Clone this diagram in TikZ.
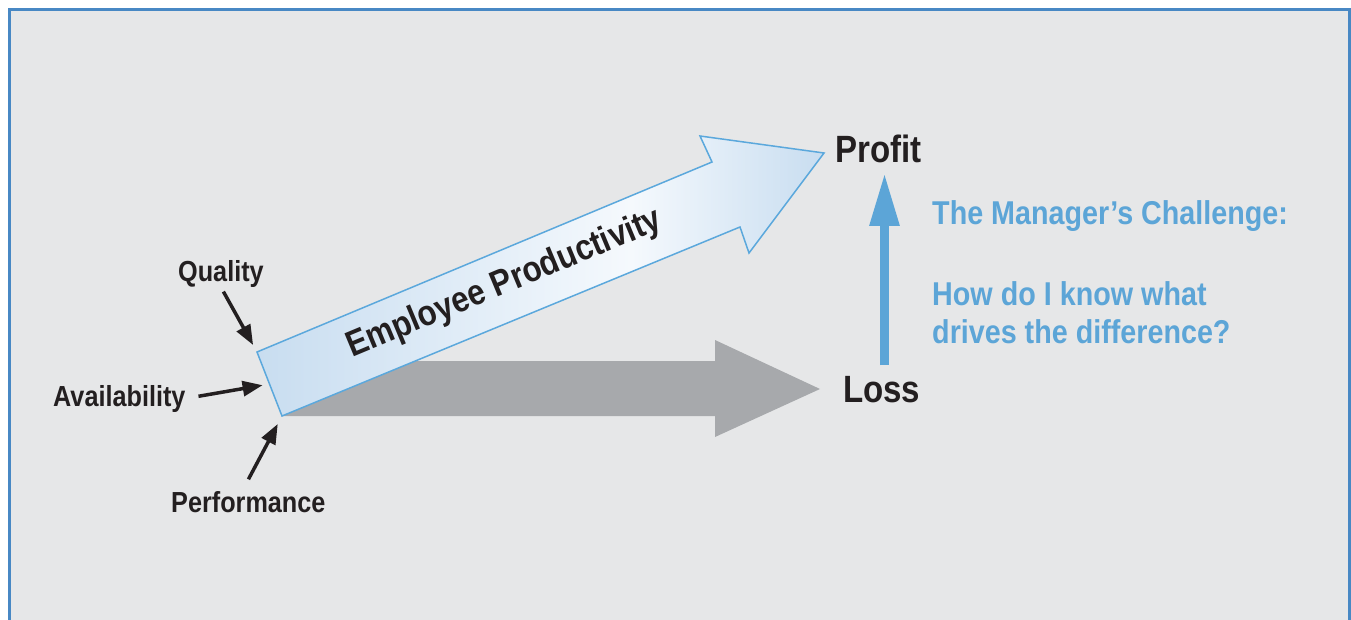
\documentclass[tikz,border=0pt]{standalone}
\usepackage{fontspec}
\newfontfamily\gothic{Liberation Sans}[FakeStretch=0.87]
\usetikzlibrary{arrows.meta}
\definecolor{panelgray}{RGB}{230,231,232}
\definecolor{frameblue}{RGB}{72,136,196}
\definecolor{lineblue}{RGB}{91,168,220}
\definecolor{paleblue}{RGB}{200,221,240}
\definecolor{whiteblue}{RGB}{245,249,253}
\definecolor{noteblue}{RGB}{92,165,215}
\definecolor{shadowgray}{RGB}{167,169,172}
\definecolor{inkblack}{RGB}{35,31,32}
\pgfdeclarehorizontalshading{prodshade}{100bp}{color(0bp)=(paleblue); color(25bp)=(paleblue); color(58bp)=(whiteblue); color(75bp)=(paleblue); color(100bp)=(paleblue)}
\begin{document}
\begin{tikzpicture}[x=1pt,y=1pt,yscale=-1,
  lbl/.style={inner sep=0pt,anchor=base west,text=inkblack,font=\gothic\bfseries\fontsize{29}{29}\selectfont},
  big/.style={lbl,font=\gothic\bfseries\fontsize{38}{38}\selectfont},
  note/.style={lbl,text=noteblue,font=\gothic\bfseries\fontsize{33}{33}\selectfont},
  feed/.style={-{Triangle[length=20pt,width=15pt]},line width=3.5pt,draw=inkblack}]
\useasboundingbox (0,0) rectangle (1351,620);
\fill[white] (0,0) rectangle (1351,620);
\clip (0,0) rectangle (1351,620);
\draw[line width=3pt,draw=frameblue,fill=panelgray] (9.5,9.5) rectangle (1349.5,700);
% corners of the productivity arrow
\coordinate (tailtop) at (257,352);
\coordinate (tailbot) at (282,416);
\coordinate (tailmid) at (269.5,384);
% grey arrow
\fill[shadowgray] (tailbot) -- (282,361) -- (715,361) -- (715,340) -- (820,389) -- (715,437) -- (715,416) -- cycle;
% blue arrow
\path[draw=lineblue,line width=1.5pt,shading=prodshade] (tailtop) -- (712,162) -- (700,136) -- (824,153) -- (749,253) -- (740,227) -- (tailbot) -- cycle;
\node[lbl,rotate=22.6,anchor=base,font=\gothic\bfseries\fontsize{36}{36}\selectfont] (prod) at (508,293) {Employee Productivity};
\node[big] (profit) at (835,163) {Profit};
\node[big] (loss) at (843,402) {Loss};
\node[lbl] (quality) at (178,281) {Quality};
\node[lbl] (avail) at (53,406) {Availability};
\node[lbl] (perf) at (171,512) {Performance};
\node[note] (challenge) at (932,225) {The Manager’s Challenge:};
\node[note] (howdo) at (932,305) {How do I know what};
\node[note] (drives) at (932,343) {drives the difference?};
\draw[feed,shorten <=5pt,shorten >=8pt] (quality.south) -- (tailtop);
\draw[feed,shorten <=13pt,shorten >=7pt] (avail.east) -- (tailmid);
\draw[feed,shorten <=13pt,shorten >=9pt] ([xshift=-6pt]perf.north) -- (tailbot);
% profit vs loss
\coordinate (risefoot) at (884.5,365);
\coordinate (risetop) at (884.5,173);
\draw[line width=9pt,draw=noteblue,-{Triangle[length=53pt,width=28pt]}] (risefoot) -- (risetop);
\end{tikzpicture}
\end{document}
